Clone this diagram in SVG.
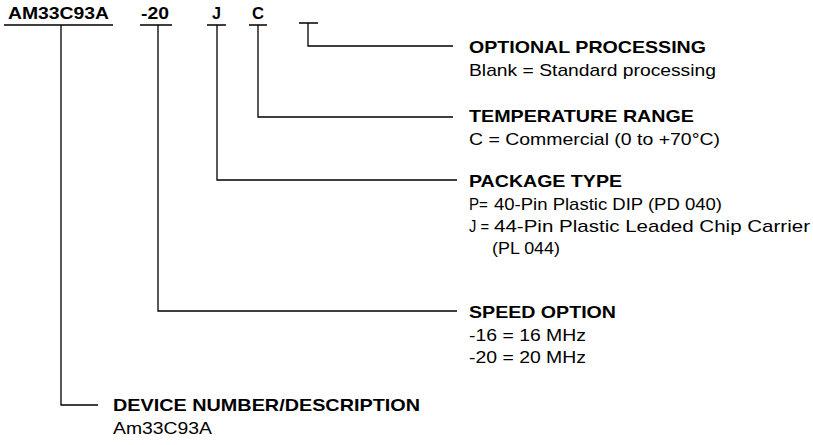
<svg xmlns="http://www.w3.org/2000/svg" width="813" height="445" viewBox="0 0 813 445">
<style>
text{font-family:"Liberation Sans",Arial,Helvetica,sans-serif;font-size:17px;fill:#000}
.b{font-weight:bold}
.ln{fill:none;stroke:#000;stroke-width:1.3}
</style>
<rect width="813" height="445" fill="#fff"/>
<g id="code">
<text class="b" x="8" y="19" textLength="101" lengthAdjust="spacingAndGlyphs">AM33C93A</text>
<text class="b" x="141" y="19" textLength="28" lengthAdjust="spacingAndGlyphs">-20</text>
<text class="b" x="212" y="19" textLength="9" lengthAdjust="spacingAndGlyphs">J</text>
<text class="b" x="252" y="19" textLength="12" lengthAdjust="spacingAndGlyphs">C</text>
<path class="ln" d="M4 25H113M140 25H172M207 25H226M249 25H267M299 23H318"/>
</g>
<g id="connectors">
<path class="ln" d="M308 23V46H453"/>
<path class="ln" d="M258 25V117H453"/>
<path class="ln" d="M217 25V180H457"/>
<path class="ln" d="M158 25V311H457"/>
<path class="ln" d="M61 25V405H98"/>
</g>
<g id="optional">
<text class="b" x="469" y="53" textLength="237" lengthAdjust="spacingAndGlyphs">OPTIONAL PROCESSING</text>
<text x="469" y="76" textLength="247" lengthAdjust="spacingAndGlyphs">Blank = Standard processing</text>
</g>
<g id="temperature">
<text class="b" x="469" y="122" textLength="225" lengthAdjust="spacingAndGlyphs">TEMPERATURE RANGE</text>
<text x="469" y="145" textLength="251" lengthAdjust="spacingAndGlyphs">C = Commercial (0 to +70°C)</text>
</g>
<g id="package">
<text class="b" x="469" y="187" textLength="153" lengthAdjust="spacingAndGlyphs">PACKAGE TYPE</text>
<text x="469" y="210" textLength="19" lengthAdjust="spacingAndGlyphs">P=</text>
<text x="494" y="210" textLength="228" lengthAdjust="spacingAndGlyphs">40-Pin Plastic DIP (PD 040)</text>
<text x="469" y="232" textLength="20" lengthAdjust="spacingAndGlyphs">J =</text>
<text x="494" y="232" textLength="316" lengthAdjust="spacingAndGlyphs">44-Pin Plastic Leaded Chip Carrier</text>
<text x="492" y="254" textLength="68" lengthAdjust="spacingAndGlyphs">(PL 044)</text>
</g>
<g id="speed">
<text class="b" x="469" y="318" textLength="147" lengthAdjust="spacingAndGlyphs">SPEED OPTION</text>
<text x="469" y="341" textLength="117" lengthAdjust="spacingAndGlyphs">-16 = 16 MHz</text>
<text x="469" y="363" textLength="117" lengthAdjust="spacingAndGlyphs">-20 = 20 MHz</text>
</g>
<g id="device">
<text class="b" x="113" y="411" textLength="307" lengthAdjust="spacingAndGlyphs">DEVICE NUMBER/DESCRIPTION</text>
<text x="113" y="434" textLength="99" lengthAdjust="spacingAndGlyphs">Am33C93A</text>
</g>
</svg>
